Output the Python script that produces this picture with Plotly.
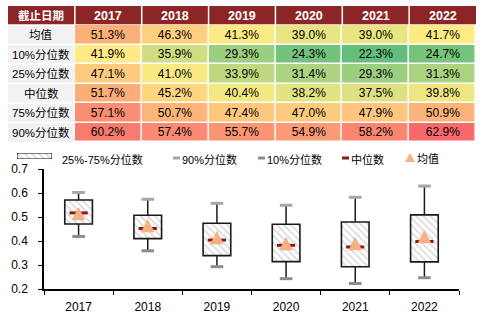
import plotly.graph_objects as go

# Yearly distribution statistics (percent)
years = ["2017", "2018", "2019", "2020", "2021", "2022"]
mean_pct = [51.3, 46.3, 41.3, 39.0, 39.0, 41.7]
p10_pct = [41.9, 35.9, 29.3, 24.3, 22.3, 24.7]
p25_pct = [47.1, 41.0, 33.9, 31.4, 29.3, 31.3]
median_pct = [51.7, 45.2, 40.4, 38.2, 37.5, 39.8]
p75_pct = [57.1, 50.7, 47.4, 47.0, 47.9, 50.9]
p90_pct = [60.2, 57.4, 55.7, 54.9, 58.2, 62.9]

row_labels = ["均值", "10%分位数", "25%分位数", "中位数", "75%分位数", "90%分位数"]
header_label = "截止日期"
legend_labels = ["25%-75%分位数", "90%分位数", "10%分位数", "中位数", "均值"]

W, H = 485, 327
FONT = "Arial, Liberation Sans, Noto Sans CJK SC, sans-serif"

C_HEADER = "#8C2626"
C_LABEL = "#F2F2F2"
C_P90 = "#A6A6A6"
C_P10 = "#8C8C8C"
C_MED = "#8B1A1A"
C_MEAN = "#F4B183"
HATCH = dict(shape="\\", fgcolor="#BEBEBE", bgcolor="white", size=5, solidity=0.4)


def px(x):
    return x / W


def py(y):
    return 1 - y / H


def label(x, y, text, size, color="black", xanchor="center"):
    return dict(xref="paper", yref="paper", x=x, y=y, text=text, showarrow=False,
                xanchor=xanchor, yanchor="middle",
                font=dict(family=FONT, size=size, color=color))


rows = [mean_pct, p10_pct, p25_pct, median_pct, p75_pct, p90_pct]

# three-colour scale: green (min) -> yellow (median of all values) -> red (max)
all_vals = sorted(v for r in rows for v in r)
vmin, vmax = all_vals[0], all_vals[-1]
n = len(all_vals)
vmid = (all_vals[n // 2 - 1] + all_vals[n // 2]) / 2
scale = [[0.0, "#63BE7B"], [(vmid - vmin) / (vmax - vmin), "#FFEB84"], [1.0, "#F8696B"]]

fig = go.Figure()

# ---------- summary table (heat-coloured cells) ----------
tbl_left, tbl_right, tbl_top, tbl_bottom = 8, 476, 6, 142
n_cols = len(years) + 1
col_w = (tbl_right - tbl_left) / n_cols
head_h = 19
row_h = (tbl_bottom - tbl_top - head_h) / len(row_labels)

fig.add_trace(go.Heatmap(
    z=rows, x=years, y=row_labels,
    colorscale=scale, zmin=vmin, zmax=vmax, showscale=False,
    xgap=1.5, ygap=1.5,
    texttemplate="%{z:.1f}%",
    textfont=dict(family=FONT, size=12, color="black"),
    xaxis="x3", yaxis="y3", hoverinfo="skip",
))

shapes, annotations = [], []
# header row
header_texts = [header_label] + years
for j, t in enumerate(header_texts):
    x0 = tbl_left + j * col_w + (0.75 if j else 0)
    x1 = tbl_left + (j + 1) * col_w - (0.75 if j < n_cols - 1 else 0)
    shapes.append(dict(type="rect", xref="paper", yref="paper",
                       x0=px(x0), x1=px(x1), y0=py(tbl_top + head_h - 0.75), y1=py(tbl_top),
                       fillcolor=C_HEADER, line=dict(width=0), layer="below"))
    annotations.append(label(px(tbl_left + (j + 0.5) * col_w), py(tbl_top + head_h / 2),
                             f"<b>{t}</b>", 12.5 if j else 11.5, "white"))
# row label column
for i, t in enumerate(row_labels):
    y0 = tbl_top + head_h + i * row_h + 0.75
    y1 = tbl_top + head_h + (i + 1) * row_h - (0.75 if i < len(row_labels) - 1 else 0)
    shapes.append(dict(type="rect", xref="paper", yref="paper",
                       x0=px(tbl_left), x1=px(tbl_left + col_w - 0.75), y0=py(y1), y1=py(y0),
                       fillcolor=C_LABEL, line=dict(width=0), layer="below"))
    annotations.append(label(px(tbl_left + col_w / 2),
                             py(tbl_top + head_h + (i + 0.5) * row_h), t, 11.5))

# ---------- box chart ----------
p10 = [v / 100 for v in p10_pct]
p25 = [v / 100 for v in p25_pct]
med = [v / 100 for v in median_pct]
p75 = [v / 100 for v in p75_pct]
p90 = [v / 100 for v in p90_pct]
mean = [v / 100 for v in mean_pct]

# interquartile boxes
fig.add_trace(go.Bar(
    x=years, y=[b - a for a, b in zip(p25, p75)], base=p25, width=0.4,
    marker=dict(color="white", line=dict(color="#1A1A1A", width=1.6), pattern=HATCH),
    hoverinfo="skip",
))

# whiskers
wx, wy = [], []
for i, yr in enumerate(years):
    wx += [yr, yr, None, yr, yr, None]
    wy += [p75[i], p90[i], None, p25[i], p10[i], None]
fig.add_trace(go.Scatter(x=wx, y=wy, mode="lines",
                         line=dict(color="#1A1A1A", width=1.5), hoverinfo="skip"))

fig.add_trace(go.Scatter(
    x=years, y=p90, mode="markers",
    marker=dict(symbol="line-ew", size=9, line=dict(color=C_P90, width=3)),
))
fig.add_trace(go.Scatter(
    x=years, y=p10, mode="markers",
    marker=dict(symbol="line-ew", size=9, line=dict(color=C_P10, width=3)),
))
fig.add_trace(go.Scatter(
    x=years, y=med, mode="markers",
    marker=dict(symbol="line-ew", size=13, line=dict(color=C_MED, width=3)),
))
# mean: solid upward triangle glyph centred on the value
fig.add_trace(go.Scatter(
    x=years, y=mean, mode="text", text=["▲"] * len(years),
    textposition="middle center",
    textfont=dict(family="DejaVu Sans", size=17.5, color=C_MEAN),
))

# ---------- legend ----------
leg_y = 158
# hatched key drawn as a one-bar inset
fig.add_trace(go.Bar(
    x=[0], y=[1], width=1, xaxis="x2", yaxis="y2",
    marker=dict(color="white", line=dict(color="black", width=1), pattern=HATCH),
    hoverinfo="skip",
))
annotations.append(label(px(60), py(leg_y + 1), legend_labels[0], 11, xanchor="left"))
dash_items = [(173, C_P90, legend_labels[1]), (258, C_P10, legend_labels[2]),
              (342, C_MED, legend_labels[3])]
for x0, col, lab in dash_items:
    shapes.append(dict(type="line", xref="paper", yref="paper",
                       x0=px(x0), x1=px(x0 + 7), y0=py(leg_y), y1=py(leg_y),
                       line=dict(color=col, width=3)))
    annotations.append(label(px(x0 + 7), py(leg_y + 1), lab, 11, xanchor="left"))
shapes.append(dict(type="path", xref="paper", yref="paper",
                   path=f"M {px(405)} {py(leg_y + 4)} L {px(415)} {py(leg_y + 4)} "
                        f"L {px(410)} {py(leg_y - 5)} Z",
                   fillcolor=C_MEAN, line=dict(width=0)))
annotations.append(label(px(415), py(leg_y + 1), legend_labels[4], 11, xanchor="left"))

fig.update_layout(
    width=W, height=H,
    margin=dict(l=0, r=0, t=0, b=0, autoexpand=False),
    paper_bgcolor="white", plot_bgcolor="white",
    font=dict(family=FONT, size=12, color="black"),
    showlegend=False,
    shapes=shapes, annotations=annotations,
    xaxis=dict(domain=[px(44), px(459)], type="category", anchor="y",
               showline=True, linecolor="black", linewidth=1.5,
               ticks="outside", tickson="boundaries", ticklen=4,
               tickcolor="black", showgrid=False, zeroline=False,
               ticklabelstandoff=6, tickfont=dict(size=12)),
    yaxis=dict(domain=[py(289), py(169)], range=[0.2, 0.7], dtick=0.1, anchor="x",
               tickformat=".1f", showline=True, linecolor="black", linewidth=1.5,
               ticks="outside", ticklen=4, tickcolor="black",
               showgrid=False, zeroline=False, ticklabelstandoff=8,
               tickfont=dict(size=12)),
    xaxis2=dict(domain=[px(17), px(52)], range=[-0.5, 0.5], visible=False,
                anchor="y2", fixedrange=True),
    yaxis2=dict(domain=[py(159), py(153)], range=[0, 1], visible=False,
                anchor="x2", fixedrange=True),
    xaxis3=dict(domain=[px(tbl_left + col_w), px(tbl_right)], visible=False,
                anchor="y3", type="category"),
    yaxis3=dict(domain=[py(tbl_bottom), py(tbl_top + head_h)], visible=False,
                anchor="x3", type="category", autorange="reversed"),
)

fig.write_html("out.html")
